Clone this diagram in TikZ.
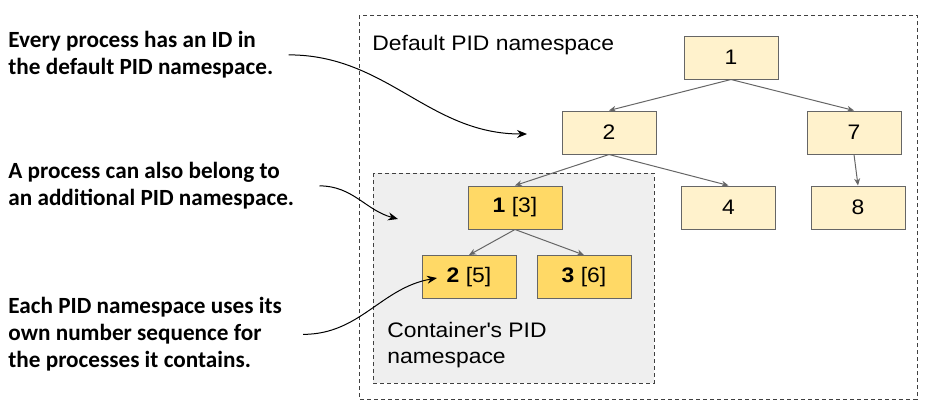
\documentclass[tikz,border=0pt]{standalone}
\usepackage{fontspec}
\setmainfont{Liberation Sans}[FakeStretch=1.09]
\newfontfamily\notefont{Carlito}
\usetikzlibrary{arrows.meta}

\definecolor{procfill}{HTML}{FFF2CC}
\definecolor{contfill}{HTML}{FFD966}
\definecolor{nsfill}{HTML}{EFEFEF}
\definecolor{edgegray}{HTML}{666666}

\tikzset{
    proc/.style={draw=edgegray, line width=0.5pt, fill=procfill, minimum width=47pt, minimum height=21.5pt, inner sep=0pt, font=\fontsize{10.5}{12}\selectfont},
    cproc/.style={proc, fill=contfill},
    edge/.style={draw=edgegray, line width=0.5pt, -{Stealth[length=3.5pt,width=3pt]}},
    note/.style={anchor=north west, align=left, inner sep=0pt, font=\notefont\bfseries\fontsize{11.6}{13.5}\selectfont},
    nslabel/.style={anchor=north west, align=left, inner sep=0pt, font=\fontsize{10.5}{13}\selectfont},
    callout/.style={line width=0.5pt, -{Stealth[length=5pt,width=4pt]}},
    ns/.style={draw=black!75, line width=0.5pt, dash pattern=on 2pt off 1.5pt}
}

\begin{document}
\begin{tikzpicture}[x=0.5pt,y=-0.5pt]
    \useasboundingbox (0,0) rectangle (937,418);
    % Namespaces
    \draw[ns] (359,15) rectangle (917,399);
    \draw[ns, fill=nsfill] (373,173) rectangle (654,383);
    \node[nslabel] (defns) at (372,35) {Default PID namespace};
    \node[nslabel] (contns) at (387,322) {Container\textquotesingle s PID\\namespace};
    % Processes
    \node[proc] (p1) at (731,57.5) {1};
    \node[proc] (p2) at (609,132.5) {2};
    \node[proc] (p7) at (854,132.5) {7};
    \node[proc] (p4) at (728.5,207.5) {4};
    \node[proc] (p8) at (858,207.5) {8};
    \node[cproc] (c1) at (515,207.5) {\textbf{1} [3]};
    \node[cproc] (c2) at (469,277) {\textbf{2} [5]};
    \node[cproc] (c3) at (584,277) {\textbf{3} [6]};
    % Tree
    \draw[edge] (p1.south) -- (p2.north);
    \draw[edge] (p1.south) -- (p7.north);
    \draw[edge] (p7.south) -- (p8.north);
    \draw[edge] (p2.south) -- (p4.north);
    \draw[edge] (p2.south) -- (c1.north);
    \draw[edge] (c1.south) -- (c2.north);
    \draw[edge] (c1.south) -- (c3.north);
    % Notes
    \node[note] (n1) at (8,31) {Every process has an ID in\\the default PID namespace.};
    \node[note] (n2) at (8,162) {A process can also belong to\\an additional PID namespace.};
    \node[note] (n3) at (8,297) {Each PID namespace uses its\\own number sequence for\\the processes it contains.};
    \coordinate (n1end) at (527,134);
    \coordinate (n2end) at (398,219);
    \coordinate (n3end) at (437,278);
    \draw[callout] ([xshift=7.5pt]n1.east) to[out=0,in=180] (n1end);
    \draw[callout] ([xshift=12.5pt]n2.east) to[out=0,in=165] (n2end);
    \draw[callout] ([xshift=10.5pt]n3.east) to[out=0,in=190] (n3end);
\end{tikzpicture}
\end{document}
